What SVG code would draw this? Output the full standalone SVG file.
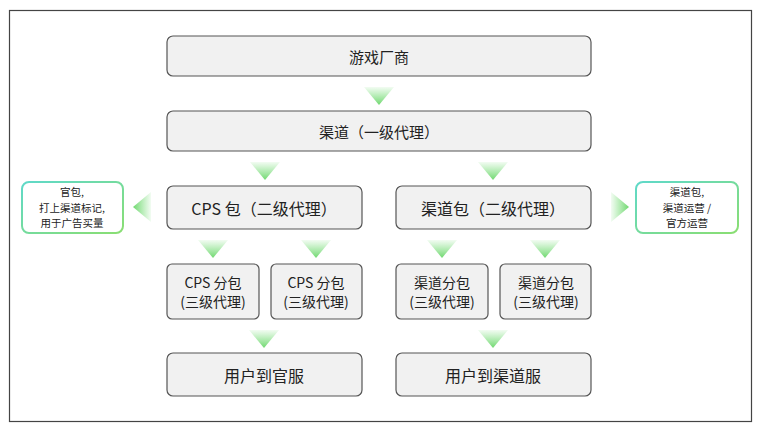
<svg xmlns="http://www.w3.org/2000/svg" width="761" height="432" viewBox="0 0 761 432">
<defs>
<linearGradient id="gDown" x1="0" y1="0" x2="0" y2="1">
<stop offset="0" stop-color="#7fe07f" stop-opacity="0.1"/>
<stop offset="1" stop-color="#6fd86f" stop-opacity="1"/>
</linearGradient>
<linearGradient id="gLeft" x1="1" y1="0" x2="0" y2="0">
<stop offset="0" stop-color="#7fe07f" stop-opacity="0.1"/>
<stop offset="1" stop-color="#6fd86f" stop-opacity="1"/>
</linearGradient>
<linearGradient id="gRight" x1="0" y1="0" x2="1" y2="0">
<stop offset="0" stop-color="#7fe07f" stop-opacity="0.1"/>
<stop offset="1" stop-color="#6fd86f" stop-opacity="1"/>
</linearGradient>
<linearGradient id="gNote" x1="0" y1="0" x2="1" y2="1">
<stop offset="0" stop-color="#5fd9c9"/>
<stop offset="1" stop-color="#8ade72"/>
</linearGradient>
</defs>
<style>
.frame{fill:#fff;stroke:#444;stroke-width:1.2}
.box{fill:#f1f1f1;stroke:#555;stroke-width:1.2}
.note{fill:#fff;stroke:url(#gNote);stroke-width:2}
text{font-family:"Noto Sans CJK SC","Noto Sans",sans-serif;fill:#222;text-anchor:middle;dominant-baseline:central}
.t15{font-size:15px}
.t16{font-size:16px}
.t14{font-size:14px}
.tn{font-size:10.5px}
.ad{fill:url(#gDown)}
</style>
<rect class="frame" x="9.5" y="10.5" width="742" height="411"/>
<g id="connectors">
<polygon class="ad" points="364,87 394,87 379,105"/>
<polygon class="ad" points="250,162 280,162 265,180"/>
<polygon class="ad" points="478,162 508,162 493,180"/>
<polygon class="ad" points="198,240 228,240 213,258"/>
<polygon class="ad" points="301,240 331,240 316,258"/>
<polygon class="ad" points="427,240 457,240 442,258"/>
<polygon class="ad" points="530,240 560,240 545,258"/>
<polygon class="ad" points="249,330 279,330 264,348"/>
<polygon class="ad" points="478,330 508,330 493,348"/>
<polygon fill="url(#gLeft)" points="151,192 151,222 133,207"/>
<polygon fill="url(#gRight)" points="611,192 611,222 629,207"/>
</g>
<g id="n1"><rect class="box" x="167" y="36" width="424" height="40" rx="6"/><text class="t15" x="379" y="56">游戏厂商</text></g>
<g id="n2"><rect class="box" x="167" y="111" width="424" height="40" rx="6"/><text class="t15" x="379" y="131">渠道（一级代理）</text></g>
<g id="n3"><rect class="box" x="167" y="186" width="195" height="43" rx="6"/><text class="t16" x="264" y="208">CPS 包（二级代理）</text></g>
<g id="n4"><rect class="box" x="396" y="186" width="195" height="43" rx="6"/><text class="t16" x="493" y="208">渠道包（二级代理）</text></g>
<g id="n5"><rect class="box" x="167" y="264" width="92" height="55" rx="5"/><text class="t14" x="213" y="282">CPS 分包</text><text class="t14" x="213" y="301">(三级代理)</text></g>
<g id="n6"><rect class="box" x="271" y="264" width="91" height="55" rx="5"/><text class="t14" x="316" y="282">CPS 分包</text><text class="t14" x="316" y="301">(三级代理)</text></g>
<g id="n7"><rect class="box" x="396" y="264" width="92" height="55" rx="5"/><text class="t14" x="442" y="282">渠道分包</text><text class="t14" x="442" y="301">(三级代理)</text></g>
<g id="n8"><rect class="box" x="500" y="264" width="91" height="55" rx="5"/><text class="t14" x="546" y="282">渠道分包</text><text class="t14" x="546" y="301">(三级代理)</text></g>
<g id="n9"><rect class="box" x="167" y="353" width="195" height="43" rx="6"/><text class="t16" x="264" y="375">用户到官服</text></g>
<g id="n10"><rect class="box" x="396" y="353" width="195" height="43" rx="6"/><text class="t16" x="493" y="375">用户到渠道服</text></g>
<g id="note1"><rect class="note" x="22" y="182" width="101" height="51" rx="7"/><text class="tn" x="72" y="191.7">官包,</text><text class="tn" x="72" y="207">打上渠道标记,</text><text class="tn" x="72" y="222.3">用于广告买量</text></g>
<g id="note2"><rect class="note" x="636" y="182" width="102" height="51" rx="7"/><text class="tn" x="687" y="191.7">渠道包,</text><text class="tn" x="687" y="207">渠道运营 /</text><text class="tn" x="687" y="222.3">官方运营</text></g>
</svg>
